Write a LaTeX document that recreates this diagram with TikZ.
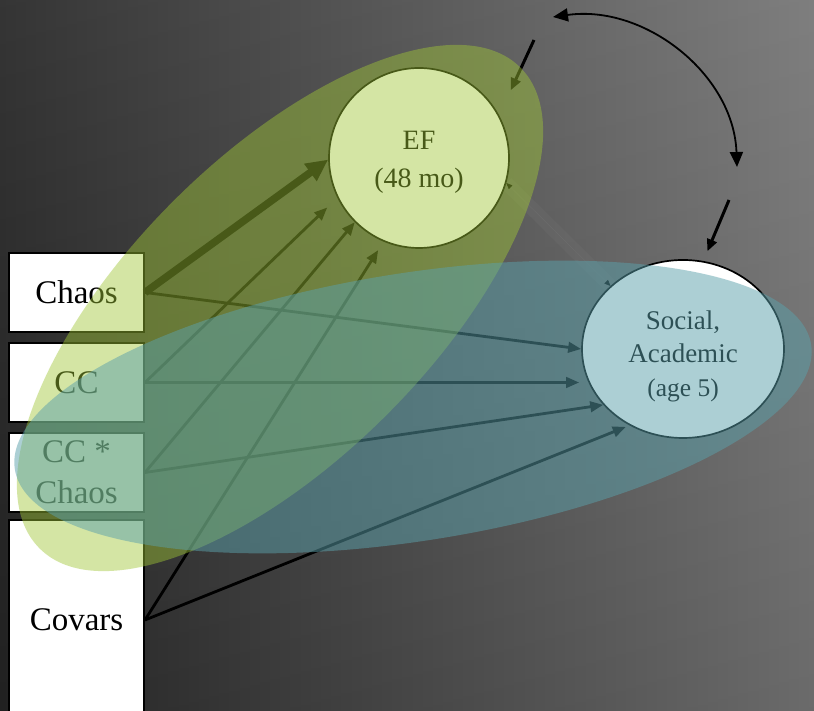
\documentclass[tikz,border=0pt]{standalone}
\usepackage{fontspec}
\setmainfont{Liberation Serif}
\usetikzlibrary{arrows.meta,shapes.geometric}

\definecolor{bgleft}{HTML}{242424}
\definecolor{bgmid}{HTML}{5A5A5A}
\definecolor{bgright}{HTML}{747474}
\definecolor{efgreen}{RGB}{160,199,54}
\definecolor{socaqua}{RGB}{91,161,171}
\definecolor{faintline}{HTML}{6C6C6C}

\begin{document}
\begin{tikzpicture}[x=1pt,y=1pt,
  box/.style={draw=black, line width=2pt, fill=white, minimum width=135pt,
    minimum height=79pt, inner sep=0pt, align=center,
    font=\fontsize{33}{41}\selectfont},
  latent/.style={draw=black, line width=1.7pt, fill=white, inner sep=0pt, align=center},
  conn/.style={line width=2.8pt, -{Triangle[length=13pt,width=10.5pt]}},
  heavyconn/.style={line width=7.5pt, -{Triangle[length=22pt,width=20pt]}},
  resid/.style={line width=3pt, -{Triangle[length=12pt,width=10pt]}},
  covarc/.style={line width=1.8pt,
    {Triangle[length=15pt,width=13pt]}-{Triangle[length=15pt,width=13pt]}},
  faintpath/.style={line width=0.5pt, draw=faintline,
    {Triangle[length=6pt,width=5pt,color=black]}-{Triangle[length=6pt,width=5pt,color=black]}},
]
\clip (0,0) rectangle (814,711);
\useasboundingbox (0,0) rectangle (814,711);

% background gradient
\shade[left color=bgleft, middle color=bgmid, right color=bgright] (0,0) rectangle (814,711);
\shade[top color=white, bottom color=black, opacity=0.08] (0,0) rectangle (814,711);

% observed variables
\node[box] (chaos) at (76.5,418.5) {Chaos};
\node[box] (cc) at (76.5,328.5) {CC};
\node[box] (ccx) at (76.5,238.5) {CC *\\Chaos};
\node[box, minimum height=200pt] (covars) at (76.5,91) {Covars};

% latent outcomes
\node[latent, circle, minimum size=180pt, font=\fontsize{28}{38}\selectfont]
  (ef) at (419,553) {\rule{0pt}{26pt}EF\\(48 mo)};
\node[latent, ellipse, minimum width=202pt, minimum height=178pt,
  font=\fontsize{27}{33.5}\selectfont]
  (soc) at (683,362) {\rule{0pt}{33pt}Social,\\Academic\\{\fontsize{25.5}{33.5}\selectfont(age 5)}};

% faint path between the two outcomes
\draw[line width=14pt, white, opacity=0.03] (ef.-16) -- (soc.139);
\draw[faintpath] (ef.-16) -- (soc.139);

% paths to EF
\draw[heavyconn] (chaos.east) -- (ef.181);
\draw[conn, shorten >=14pt] (cc.east) -- (ef.206.5);
\draw[conn] (ccx.east) -- (ef.225);
\draw[conn, shorten >=10pt] (covars.east) -- (ef.247);

% paths to Social, Academic
\draw[conn] (chaos.east) -- (soc.180);
\draw[conn, shorten >=2pt] (cc.east) -- (cc.east -| soc.west);
\draw[conn] (ccx.east) -- (soc.215);
\draw[conn, shorten >=4pt] (covars.east) -- (soc.235);

% residuals and their covariance
\coordinate (efres) at (534,671);
\coordinate (socres) at (729,511);
\draw[resid, shorten >=27.7pt] (efres) -- (ef.28.6);
\draw[resid, shorten >=10.5pt] (socres) -- (soc.77);
\coordinate (cova) at (553,694);
\coordinate (covb) at (737,544);
\draw[covarc] (cova) to[out=8, in=92] (covb);

% translucent groupings
\fill[efgreen, opacity=0.45, rotate around={45:(280,403)}]
  (280,403) ellipse [x radius=340pt, y radius=151pt];
\fill[socaqua, opacity=0.5, rotate around={8.9:(413,304)}]
  (413,304) ellipse [x radius=403pt, y radius=134pt];
\end{tikzpicture}
\end{document}
